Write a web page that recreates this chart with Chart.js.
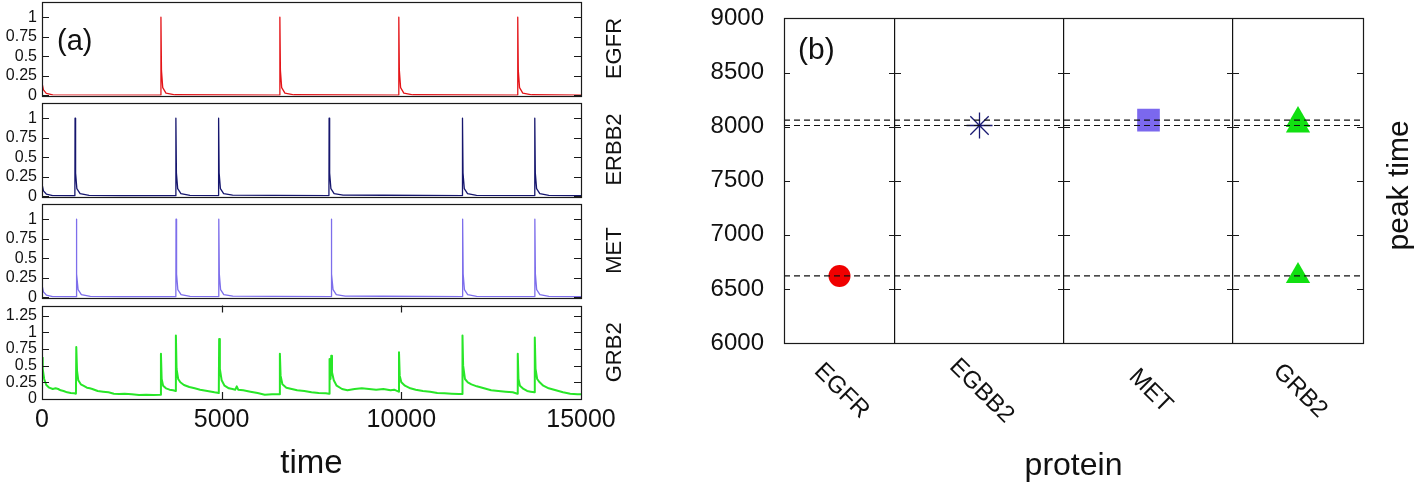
<!DOCTYPE html>
<html>
<head>
<meta charset="utf-8">
<script src="https://cdn.jsdelivr.net/npm/chart.js@4.4.1/dist/chart.umd.min.js"></script>
<style>
  html, body { margin: 0; padding: 0; background: #fff; }
  body { position: relative; width: 1416px; height: 482px; overflow: hidden; }
  canvas { position: absolute; }
</style>
</head>
<body>
<canvas id="egfr" width="640" height="123" style="left:0;top:-13px"></canvas>
<canvas id="erbb2" width="640" height="123" style="left:0;top:88px"></canvas>
<canvas id="met" width="640" height="123" style="left:0;top:189px"></canvas>
<canvas id="grb2" width="640" height="191" style="left:0;top:291px"></canvas>
<canvas id="peaks" width="726" height="498" style="left:690px;top:-16px"></canvas>
<script>
// ---- panel (a): time courses, [time, level] ----
const timeTicks = [0, 5000, 10000, 15000];
const unitTicks = [0, 0.25, 0.5, 0.75, 1];
const grb2Ticks = [0, 0.25, 0.5, 0.75, 1, 1.25];

const egfrSeries = [
  [0, 0.16], [40, 0.07], [120, 0.025], [300, 0.006],
  [3305, 0.004], [3310, 1.0], [3325, 0.32], [3360, 0.1], [3450, 0.03], [3700, 0.008],
  [6615, 0.004], [6620, 1.0], [6635, 0.32], [6670, 0.1], [6760, 0.03], [7010, 0.008],
  [9925, 0.004], [9930, 1.0], [9945, 0.32], [9980, 0.1], [10070, 0.03], [10320, 0.008],
  [13235, 0.004], [13240, 1.0], [13255, 0.32], [13290, 0.1], [13380, 0.03], [13630, 0.008],
  [15000, 0.004]
];

const erbb2Series = [
  [0, 0.16], [40, 0.07], [120, 0.03], [300, 0.01],
  [915, 0.008], [920, 1.0], [935, 0.3], [970, 0.1], [1060, 0.035], [1310, 0.014], [2200, 0.008],
  [3721, 0.008], [3726, 1.0], [3741, 0.3], [3776, 0.1], [3866, 0.035], [4116, 0.014],
  [4910, 0.01], [4915, 1.0], [4930, 0.3], [4965, 0.1], [5055, 0.035], [5305, 0.016], [6500, 0.012],
  [7985, 0.01], [7990, 1.0], [8005, 0.3], [8040, 0.1], [8130, 0.035], [8380, 0.016], [9500, 0.015],
  [11697, 0.01], [11702, 1.0], [11717, 0.3], [11752, 0.1], [11842, 0.035], [12092, 0.014],
  [13709, 0.01], [13714, 1.0], [13729, 0.3], [13764, 0.1], [13854, 0.035], [14104, 0.014],
  [15000, 0.008]
];

const metSeries = [
  [0, 0.16], [40, 0.07], [120, 0.03], [300, 0.01],
  [950, 0.008], [955, 1.0], [970, 0.3], [1005, 0.1], [1095, 0.035], [1345, 0.014], [2200, 0.008],
  [3725, 0.008], [3730, 1.0], [3745, 0.3], [3780, 0.1], [3870, 0.035], [4120, 0.014],
  [4915, 0.01], [4920, 1.0], [4935, 0.3], [4970, 0.1], [5060, 0.035], [5310, 0.016], [6500, 0.012],
  [8045, 0.01], [8050, 1.0], [8065, 0.3], [8100, 0.1], [8190, 0.035], [8440, 0.016], [9500, 0.015],
  [11701, 0.01], [11706, 1.0], [11721, 0.3], [11756, 0.1], [11846, 0.035], [12096, 0.014],
  [13711, 0.01], [13716, 1.0], [13731, 0.3], [13766, 0.1], [13856, 0.035], [14106, 0.014],
  [15000, 0.008]
];

const grb2Series = [
  [0, 0.62], [20, 0.45], [60, 0.3], [120, 0.21], [200, 0.17], [300, 0.15], [380, 0.16],
  [450, 0.15], [520, 0.13], [600, 0.12], [700, 0.1], [800, 0.09], [900, 0.085], [945, 0.08],
  [954, 0.78], [975, 0.42], [1010, 0.28], [1080, 0.22], [1150, 0.2], [1250, 0.17], [1330, 0.16],
  [1400, 0.15], [1550, 0.12], [1700, 0.11], [1850, 0.1], [2000, 0.08], [2150, 0.075], [2300, 0.08],
  [2500, 0.07], [2700, 0.06], [2900, 0.065], [3100, 0.06], [3300, 0.065],
  [3310, 0.68], [3330, 0.3], [3370, 0.2], [3450, 0.16], [3550, 0.14], [3650, 0.13], [3720, 0.12],
  [3726, 0.95], [3745, 0.45], [3790, 0.3], [3850, 0.25], [3950, 0.21], [4100, 0.18], [4250, 0.16],
  [4400, 0.14], [4600, 0.12], [4800, 0.1], [4920, 0.09],
  [4930, 0.9], [4950, 0.45], [5000, 0.28], [5080, 0.2], [5200, 0.16], [5300, 0.15], [5380, 0.14],
  [5420, 0.19], [5460, 0.14], [5600, 0.13], [5800, 0.11], [6000, 0.09], [6200, 0.065], [6400, 0.07],
  [6610, 0.07],
  [6620, 0.68], [6640, 0.35], [6690, 0.22], [6800, 0.17], [6950, 0.15], [7100, 0.13], [7300, 0.12],
  [7500, 0.1], [7700, 0.09], [7900, 0.085], [7988, 0.08],
  [7995, 0.6], [8010, 0.35], [8030, 0.3], [8040, 0.3],
  [8050, 0.65], [8070, 0.4], [8120, 0.28], [8200, 0.2], [8350, 0.15], [8500, 0.13], [8700, 0.15],
  [8900, 0.16], [9100, 0.15], [9300, 0.14], [9500, 0.15], [9700, 0.13], [9800, 0.14], [9925, 0.11],
  [9935, 0.7], [9955, 0.35], [10000, 0.25], [10100, 0.2], [10250, 0.16], [10400, 0.14], [10600, 0.12],
  [10800, 0.11], [11000, 0.09], [11200, 0.085], [11400, 0.08], [11600, 0.075], [11695, 0.075],
  [11702, 0.95], [11720, 0.5], [11770, 0.3], [11850, 0.25], [11950, 0.22], [12100, 0.19], [12300, 0.16],
  [12500, 0.13], [12700, 0.12], [12900, 0.11], [13100, 0.1], [13232, 0.08],
  [13240, 0.68], [13260, 0.3], [13300, 0.2], [13400, 0.15], [13500, 0.12], [13600, 0.11], [13705, 0.1],
  [13714, 0.92], [13735, 0.45], [13780, 0.3], [13850, 0.25], [13950, 0.2], [14100, 0.16], [14300, 0.13],
  [14500, 0.1], [14700, 0.08], [14900, 0.07], [15000, 0.07]
];

// ---- panel (b): peak times ----
const categories = ['EGFR', 'EGBB2', 'MET', 'GRB2'];
const cellBounds = [0, 1.11, 2.80, 4.49, 5.79];
const peakTimes = [[6620], [8010], [8060], [8060, 8010, 6620]];
const guideLevels = [8060, 8010, 6620];
const peakTicks = [6000, 6500, 7000, 7500, 8000, 8500, 9000];

const FONT = '"Liberation Sans", Arial, sans-serif';
Chart.defaults.font.family = FONT;
Chart.defaults.color = '#111';

function framePlugin(tickLen, xTicks, innerX) {
  return {
    id: 'frame',
    afterDatasetsDraw(chart) {
      const { ctx, chartArea: a, scales } = chart;
      ctx.save();
      ctx.strokeStyle = '#1a1a1a';
      ctx.lineWidth = 1.2;
      ctx.beginPath();
      const cols = [[a.left, 1], [a.right, -1]];
      innerX.forEach(v => {
        const p = scales.x.getPixelForValue(v);
        cols.push([p, 1], [p, -1]);
      });
      scales.y.ticks.forEach(t => {
        const py = Math.round(scales.y.getPixelForValue(t.value)) + 0.5;
        cols.forEach(([px, d]) => { ctx.moveTo(px, py); ctx.lineTo(px + d * tickLen, py); });
      });
      xTicks.forEach(v => {
        const px = Math.round(scales.x.getPixelForValue(v)) + 0.5;
        ctx.moveTo(px, a.top); ctx.lineTo(px, a.top + tickLen);
        ctx.moveTo(px, a.bottom); ctx.lineTo(px, a.bottom - tickLen);
      });
      ctx.stroke();
      ctx.strokeRect(Math.round(a.left) + 0.5, Math.round(a.top) + 0.5,
        Math.round(a.right - a.left), Math.round(a.bottom - a.top));
      ctx.restore();
    }
  };
}

// free text placed relative to the plot area
function textPlugin(items) {
  return {
    id: 'panelText',
    afterDraw(chart) {
      const { ctx, chartArea: a } = chart;
      items.forEach(t => {
        ctx.save();
        ctx.font = t.size + 'px ' + FONT;
        ctx.fillStyle = '#111';
        ctx.textAlign = t.align || 'center';
        ctx.textBaseline = 'middle';
        const px = t.fromRight ? a.right + t.x : a.left + t.x;
        const py = t.y === undefined ? (a.top + a.bottom) / 2 : a.top + t.y;
        ctx.translate(px, py);
        if (t.rot) ctx.rotate(t.rot * Math.PI / 180);
        ctx.fillText(t.text, 0, 0);
        ctx.restore();
      });
    }
  };
}

function traceChart(id, series, color, width, yMax, yTicks, name, isBottom, extraText) {
  const texts = [{ text: name, size: 22, fromRight: true, x: 34, rot: -90 }].concat(extraText || []);
  return new Chart(document.getElementById(id), {
    type: 'scatter',
    data: {
      datasets: [{
        data: series.map(p => ({ x: p[0], y: p[1] })),
        showLine: true,
        borderColor: color,
        borderWidth: width,
        borderJoinStyle: 'round',
        pointRadius: 0,
        tension: 0
      }]
    },
    options: {
      responsive: false,
      animation: false,
      layout: { padding: { top: 14, bottom: isBottom ? 0 : 14, left: 0, right: 59 } },
      plugins: { legend: { display: false }, tooltip: { enabled: false } },
      scales: {
        x: {
          type: 'linear', min: 0, max: 15000,
          display: isBottom,
          afterBuildTicks: s => { s.ticks = timeTicks.map(v => ({ value: v })); },
          afterFit: s => { s.height = isBottom ? 83 : 0; },
          ticks: { font: { size: 25 }, padding: 6, maxRotation: 0, autoSkip: false, callback: v => String(v) },
          grid: { display: false, drawTicks: false },
          border: { display: false },
          title: { display: true, text: 'time', font: { size: 33, lineHeight: 1 }, padding: { top: 0, bottom: 2 } }
        },
        y: {
          min: 0, max: yMax,
          afterBuildTicks: s => { s.ticks = yTicks.map(v => ({ value: v })); },
          afterFit: s => { s.width = 42; },
          ticks: { font: { size: 16 }, padding: 5, autoSkip: false, callback: v => String(v) },
          grid: { display: false, drawTicks: false },
          border: { display: false }
        }
      }
    },
    plugins: [framePlugin(7, isBottom ? [5000, 10000] : [], []), textPlugin(texts)]
  });
}

traceChart('egfr', egfrSeries, 'rgb(228,20,24)', 1.3, 1.2, unitTicks, 'EGFR', false,
  [{ text: '(a)', size: 29, x: 15, y: 40, align: 'left' }]);
traceChart('erbb2', erbb2Series, 'rgb(22,22,110)', 1.3, 1.2, unitTicks, 'ERBB2', false);
traceChart('met', metSeries, 'rgb(125,110,235)', 1.3, 1.2, unitTicks, 'MET', false);
traceChart('grb2', grb2Series, 'rgb(40,230,40)', 2, 1.4, grb2Ticks, 'GRB2', true);

// ---- panel (b) ----
const centers = categories.map((c, i) => (cellBounds[i] + cellBounds[i + 1]) / 2);
const markers = [
  { style: 'circle', r: 11, color: 'rgb(240,0,0)' },
  { style: 'star', r: 13, color: 'rgb(26,26,114)' },
  { style: 'rect', r: 16, color: 'rgb(123,104,238)' },
  { style: 'triangle', r: 14, color: 'rgb(17,224,17)' }
];

const guideSets = guideLevels.map(v => ({
  data: [{ x: cellBounds[0], y: v }, { x: cellBounds[cellBounds.length - 1], y: v }],
  showLine: true, borderColor: '#111', borderWidth: 1.2, borderDash: [6, 4], pointRadius: 0
}));
const markerSets = categories.map((c, i) => ({
  label: c,
  data: peakTimes[i].map(t => ({ x: centers[i], y: t })),
  pointStyle: markers[i].style,
  pointRadius: markers[i].r,
  pointBackgroundColor: markers[i].color,
  pointBorderColor: markers[i].color,
  pointBorderWidth: markers[i].style === 'star' ? 1.3 : 0
}));

const catLabels = {
  id: 'catLabels',
  afterDraw(chart) {
    const { ctx, chartArea: a, scales } = chart;
    ctx.save();
    ctx.font = '24px ' + FONT;
    ctx.fillStyle = '#111';
    ctx.textAlign = 'center';
    ctx.textBaseline = 'middle';
    categories.forEach((c, i) => {
      ctx.save();
      ctx.translate(scales.x.getPixelForValue(centers[i]) + 2, a.bottom + 48);
      ctx.rotate(Math.PI / 4);
      ctx.fillText(c, 0, 0);
      ctx.restore();
    });
    ctx.restore();
  }
};

new Chart(document.getElementById('peaks'), {
  type: 'scatter',
  data: { datasets: guideSets.concat(markerSets) },
  options: {
    responsive: false,
    animation: false,
    layout: { padding: { top: 24, bottom: 0, left: 0, right: 53 } },
    plugins: { legend: { display: false }, tooltip: { enabled: false } },
    scales: {
      x: {
        type: 'linear', min: cellBounds[0], max: cellBounds[cellBounds.length - 1],
        afterBuildTicks: s => { s.ticks = cellBounds.slice(1, -1).map(v => ({ value: v })); },
        afterFit: s => { s.height = 139; },
        ticks: { display: false },
        grid: { color: '#111', lineWidth: 1.2, drawTicks: false },
        border: { display: false },
        title: { display: true, text: 'protein', font: { size: 32, lineHeight: 1 }, padding: { top: 0, bottom: 0 } }
      },
      y: {
        min: 6000, max: 9000,
        afterBuildTicks: s => { s.ticks = peakTicks.map(v => ({ value: v })); },
        afterFit: s => { s.width = 94; },
        ticks: { font: { size: 24 }, padding: 20, callback: v => String(v) },
        grid: { display: false, drawTicks: false },
        border: { display: false }
      }
    }
  },
  plugins: [
    framePlugin(6, [], cellBounds.slice(1, -1)),
    textPlugin([
      { text: '(b)', size: 30, x: 14, y: 32, align: 'left' },
      { text: 'peak time', size: 30, fromRight: true, x: 37, y: 167, rot: -90 }
    ]),
    catLabels
  ]
});
</script>
</body>
</html>
